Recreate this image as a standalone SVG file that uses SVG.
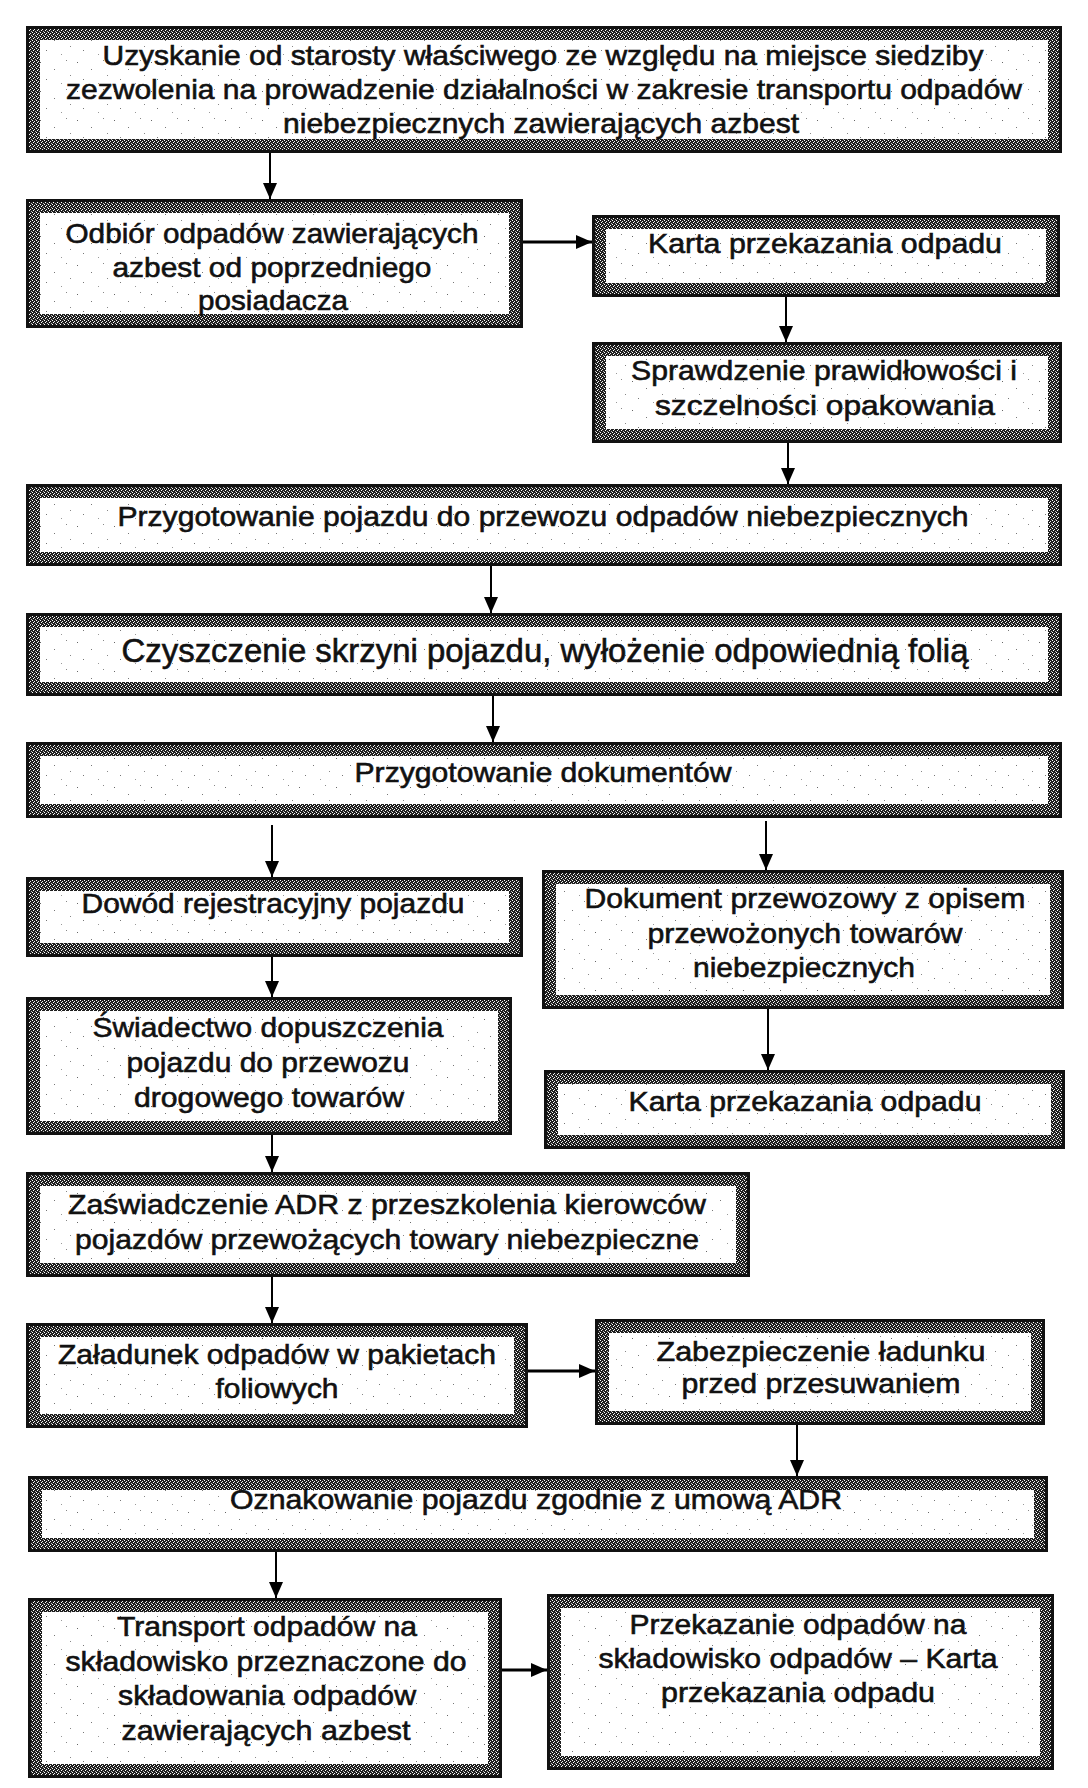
<svg xmlns="http://www.w3.org/2000/svg" width="1088" height="1788" viewBox="0 0 1088 1788">
<defs>
<pattern id="dith" width="4" height="4" patternUnits="userSpaceOnUse">
<rect width="4" height="4" fill="#1e1e1e"/>
<rect x="0" y="0" width="1" height="1" fill="#fff"/>
<rect x="2" y="1" width="1" height="1" fill="#eee"/>
<rect x="1" y="2" width="1" height="1" fill="#fff"/>
<rect x="3" y="3" width="1" height="1" fill="#bbb"/>
</pattern>
<pattern id="speck" width="37" height="29" patternUnits="userSpaceOnUse">
<rect width="37" height="29" fill="#fff"/>
<rect x="3" y="4" width="1" height="1" fill="#666"/>
<rect x="17" y="11" width="1" height="1" fill="#777"/>
<rect x="29" y="2" width="1" height="1" fill="#888"/>
<rect x="9" y="21" width="1" height="1" fill="#777"/>
<rect x="24" y="25" width="1" height="1" fill="#999"/>
<rect x="33" y="17" width="1" height="1" fill="#888"/>
</pattern>
<marker id="ah" markerWidth="18" markerHeight="16" refX="16" refY="8" orient="auto" markerUnits="userSpaceOnUse">
<path d="M0,1 L16,8 L0,15 Z" fill="#000"/>
</marker>
<style>
.o{fill:url(#dith);stroke:#111;stroke-width:3;shape-rendering:crispEdges}
.i{fill:url(#speck);shape-rendering:crispEdges}
.t{font-family:"Liberation Sans Narrow","Liberation Sans",Arial,sans-serif;font-size:28px;fill:#111;stroke:#111;stroke-width:0.6;text-anchor:middle}
.c{stroke:#000;stroke-width:2;fill:none;marker-end:url(#ah)}
.h{stroke-width:3}
</style>
</defs>
<rect width="1088" height="1788" fill="#fff"/>

<g id="n1">
<rect class="o" x="27.5" y="27.5" width="1033" height="124"/>
<rect class="i" x="40" y="40" width="1008" height="99"/>
<text class="t" x="543" y="65" textLength="881" lengthAdjust="spacingAndGlyphs">Uzyskanie od starosty właściwego ze względu na miejsce siedziby</text>
<text class="t" x="544" y="99" textLength="956" lengthAdjust="spacingAndGlyphs">zezwolenia na prowadzenie działalności w zakresie transportu odpadów</text>
<text class="t" x="541" y="133" textLength="516" lengthAdjust="spacingAndGlyphs">niebezpiecznych zawierających azbest</text>
</g>

<g id="n2">
<rect class="o" x="27.5" y="200.5" width="494" height="126"/>
<rect class="i" x="40" y="213" width="469" height="101"/>
<text class="t" x="272" y="243" textLength="413" lengthAdjust="spacingAndGlyphs">Odbiór odpadów zawierających</text>
<text class="t" x="272" y="277" textLength="319" lengthAdjust="spacingAndGlyphs">azbest od poprzedniego</text>
<text class="t" x="273" y="310" textLength="150" lengthAdjust="spacingAndGlyphs">posiadacza</text>
</g>

<g id="n3">
<rect class="o" x="593.5" y="216.5" width="465" height="79"/>
<rect class="i" x="606" y="229" width="440" height="54"/>
<text class="t" x="825" y="253" textLength="354" lengthAdjust="spacingAndGlyphs">Karta przekazania odpadu</text>
</g>

<g id="n4">
<rect class="o" x="593.5" y="343.5" width="467" height="98"/>
<rect class="i" x="606" y="356" width="442" height="73"/>
<text class="t" x="824" y="380" textLength="386" lengthAdjust="spacingAndGlyphs">Sprawdzenie prawidłowości i</text>
<text class="t" x="825" y="415" textLength="340" lengthAdjust="spacingAndGlyphs">szczelności opakowania</text>
</g>

<g id="n5">
<rect class="o" x="27.5" y="485.5" width="1033" height="79"/>
<rect class="i" x="40" y="498" width="1008" height="54"/>
<text class="t" x="543" y="526" textLength="851" lengthAdjust="spacingAndGlyphs">Przygotowanie pojazdu do przewozu odpadów niebezpiecznych</text>
</g>

<g id="n6">
<rect class="o" x="27.5" y="614.5" width="1033" height="80"/>
<rect class="i" x="40" y="627" width="1008" height="55"/>
<text class="t" x="545" y="662" textLength="847" lengthAdjust="spacingAndGlyphs" style="font-size:33px">Czyszczenie skrzyni pojazdu, wyłożenie odpowiednią folią</text>
</g>

<g id="n7">
<rect class="o" x="27.5" y="743.5" width="1033" height="73"/>
<rect class="i" x="40" y="756" width="1008" height="48"/>
<text class="t" x="543" y="782" textLength="377" lengthAdjust="spacingAndGlyphs">Przygotowanie dokumentów</text>
</g>

<g id="n8">
<rect class="o" x="27.5" y="878.5" width="494" height="77"/>
<rect class="i" x="40" y="891" width="469" height="52"/>
<text class="t" x="273" y="913" textLength="383" lengthAdjust="spacingAndGlyphs">Dowód rejestracyjny pojazdu</text>
</g>

<g id="n9">
<rect class="o" x="543.5" y="871.5" width="519" height="136"/>
<rect class="i" x="556" y="884" width="494" height="111"/>
<text class="t" x="805" y="908" textLength="441" lengthAdjust="spacingAndGlyphs">Dokument przewozowy z opisem</text>
<text class="t" x="805" y="943" textLength="315" lengthAdjust="spacingAndGlyphs">przewożonych towarów</text>
<text class="t" x="804" y="977" textLength="222" lengthAdjust="spacingAndGlyphs">niebezpiecznych</text>
</g>

<g id="n10">
<rect class="o" x="27.5" y="998.5" width="483" height="135"/>
<rect class="i" x="40" y="1011" width="458" height="110"/>
<text class="t" x="268" y="1037" textLength="351" lengthAdjust="spacingAndGlyphs">Świadectwo dopuszczenia</text>
<text class="t" x="268" y="1072" textLength="283" lengthAdjust="spacingAndGlyphs">pojazdu do przewozu</text>
<text class="t" x="269" y="1107" textLength="270" lengthAdjust="spacingAndGlyphs">drogowego towarów</text>
</g>

<g id="n11">
<rect class="o" x="545.5" y="1071.5" width="518" height="76"/>
<rect class="i" x="558" y="1084" width="493" height="51"/>
<text class="t" x="805" y="1111" textLength="353" lengthAdjust="spacingAndGlyphs">Karta przekazania odpadu</text>
</g>

<g id="n12">
<rect class="o" x="27.5" y="1173.5" width="721" height="102"/>
<rect class="i" x="40" y="1186" width="696" height="77"/>
<text class="t" x="387" y="1214" textLength="638" lengthAdjust="spacingAndGlyphs">Zaświadczenie ADR z przeszkolenia kierowców</text>
<text class="t" x="387" y="1249" textLength="624" lengthAdjust="spacingAndGlyphs">pojazdów przewożących towary niebezpieczne</text>
</g>

<g id="n13">
<rect class="o" x="27.5" y="1324.5" width="499" height="102"/>
<rect class="i" x="40" y="1337" width="474" height="77"/>
<text class="t" x="277" y="1364" textLength="438" lengthAdjust="spacingAndGlyphs">Załadunek odpadów w pakietach</text>
<text class="t" x="277" y="1398" textLength="123" lengthAdjust="spacingAndGlyphs">foliowych</text>
</g>

<g id="n14">
<rect class="o" x="596.5" y="1320.5" width="447" height="103"/>
<rect class="i" x="609" y="1333" width="422" height="78"/>
<text class="t" x="821" y="1361" textLength="329" lengthAdjust="spacingAndGlyphs">Zabezpieczenie ładunku</text>
<text class="t" x="821" y="1393" textLength="279" lengthAdjust="spacingAndGlyphs">przed przesuwaniem</text>
</g>

<g id="n15">
<rect class="o" x="29.5" y="1477.5" width="1017" height="73"/>
<rect class="i" x="42" y="1490" width="992" height="48"/>
<text class="t" x="536" y="1509" textLength="612" lengthAdjust="spacingAndGlyphs">Oznakowanie pojazdu zgodnie z umową ADR</text>
</g>

<g id="n16">
<rect class="o" x="29.5" y="1599.5" width="471" height="177"/>
<rect class="i" x="42" y="1612" width="446" height="152"/>
<text class="t" x="267" y="1636" textLength="300" lengthAdjust="spacingAndGlyphs">Transport odpadów na</text>
<text class="t" x="266" y="1671" textLength="401" lengthAdjust="spacingAndGlyphs">składowisko przeznaczone do</text>
<text class="t" x="267" y="1705" textLength="298" lengthAdjust="spacingAndGlyphs">składowania odpadów</text>
<text class="t" x="266" y="1740" textLength="289" lengthAdjust="spacingAndGlyphs">zawierających azbest</text>
</g>

<g id="n17">
<rect class="o" x="548.5" y="1595.5" width="504" height="173"/>
<rect class="i" x="561" y="1608" width="479" height="148"/>
<text class="t" x="798" y="1634" textLength="337" lengthAdjust="spacingAndGlyphs">Przekazanie odpadów na</text>
<text class="t" x="798" y="1668" textLength="399" lengthAdjust="spacingAndGlyphs">składowisko odpadów – Karta</text>
<text class="t" x="798" y="1702" textLength="274" lengthAdjust="spacingAndGlyphs">przekazania odpadu</text>
</g>

<g id="connectors">
<line class="c" x1="270" y1="153" x2="270" y2="199"/>
<line class="c h" x1="523" y1="242" x2="592" y2="242"/>
<line class="c" x1="786" y1="297" x2="786" y2="342"/>
<line class="c" x1="788" y1="443" x2="788" y2="484"/>
<line class="c" x1="491" y1="566" x2="491" y2="613"/>
<line class="c" x1="493" y1="696" x2="493" y2="742"/>
<line class="c" x1="272" y1="825" x2="272" y2="877"/>
<line class="c" x1="766" y1="821" x2="766" y2="870"/>
<line class="c" x1="272" y1="957" x2="272" y2="997"/>
<line class="c" x1="768" y1="1009" x2="768" y2="1070"/>
<line class="c" x1="272" y1="1135" x2="272" y2="1172"/>
<line class="c" x1="272" y1="1277" x2="272" y2="1323"/>
<line class="c h" x1="528" y1="1371" x2="595" y2="1371"/>
<line class="c" x1="797" y1="1425" x2="797" y2="1476"/>
<line class="c" x1="276" y1="1552" x2="276" y2="1598"/>
<line class="c h" x1="502" y1="1670" x2="547" y2="1670"/>
</g>
</svg>
